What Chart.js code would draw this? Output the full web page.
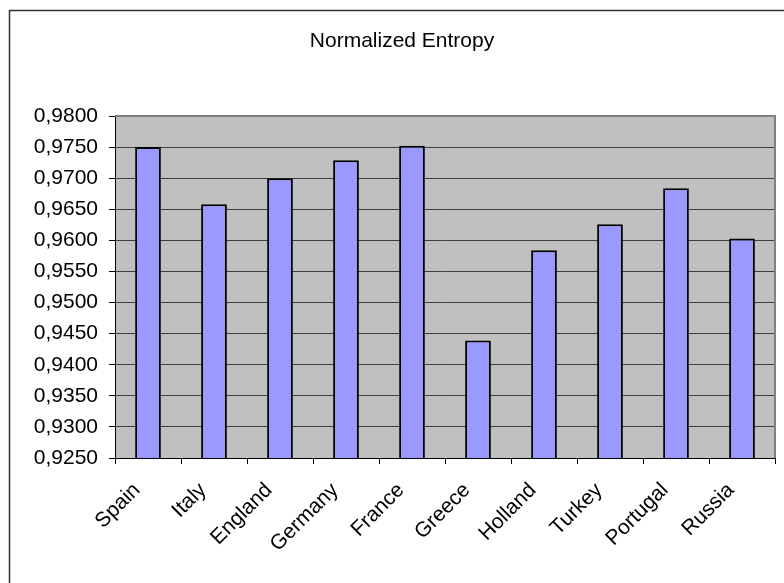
<!DOCTYPE html>
<html>
<head>
<meta charset="utf-8">
<script src="https://cdn.jsdelivr.net/npm/chart.js@4.4.1/dist/chart.umd.min.js"></script>
<style>
  html, body { margin: 0; padding: 0; background: #fff; }
  #wrap { width: 784px; height: 583px; position: relative; }
</style>
</head>
<body>
<div id="wrap"><canvas id="c" width="784" height="583"></canvas></div>
<script>
const categories = ["Spain", "Italy", "England", "Germany", "France", "Greece", "Holland", "Turkey", "Portugal", "Russia"];
const entropyValues = [0.9750, 0.9658, 0.9700, 0.9729, 0.9752, 0.9439, 0.9584, 0.9626, 0.9684, 0.9603];
const yTickValues = [0.9250, 0.9300, 0.9350, 0.9400, 0.9450, 0.9500, 0.9550, 0.9600, 0.9650, 0.9700, 0.9750, 0.9800];
const chartTitle = "Normalized Entropy";

const FONT = "'Liberation Sans', Arial, sans-serif";
const W = 784, H = 583;
const PLOT_LEFT = 115, PLOT_RIGHT = 775, PLOT_BOTTOM = 458, PLOT_TOP = 116, PAD_LEFT = 29;
const TITLE_SIZE = 21, TITLE_TOP = 29;

const decorPlugin = {
  id: 'decor',
  beforeDraw(chart) {
    const { ctx, chartArea: a } = chart;
    ctx.save();
    ctx.fillStyle = '#ffffff';
    ctx.fillRect(0, 0, chart.width, chart.height);
    ctx.fillStyle = '#C0C0C0';
    ctx.fillRect(a.left, a.top, a.right - a.left, a.bottom - a.top);
    ctx.restore();
  },
  afterDraw(chart) {
    const { ctx, chartArea: a } = chart;
    ctx.save();
    ctx.strokeStyle = '#808080';
    ctx.lineWidth = 2;
    ctx.beginPath();
    ctx.moveTo(a.left, a.top);
    ctx.lineTo(a.right, a.top);
    ctx.lineTo(a.right, a.bottom);
    ctx.stroke();
    ctx.strokeStyle = '#333333';
    ctx.lineWidth = 1.5;
    ctx.strokeRect(9.5, 10.5, W + 20, H + 20);
    ctx.restore();
  }
};

new Chart(document.getElementById('c'), {
  type: 'bar',
  data: {
    labels: categories,
    datasets: [{
      label: chartTitle,
      data: entropyValues,
      backgroundColor: '#9999FF',
      borderColor: '#000000',
      borderWidth: 2,
      borderSkipped: false,
      barPercentage: 0.39,
      categoryPercentage: 1.0
    }]
  },
  options: {
    responsive: false,
    animation: false,
    devicePixelRatio: 1,
    layout: { padding: { left: PAD_LEFT, right: W - PLOT_RIGHT, top: 0, bottom: 0 } },
    plugins: {
      legend: { display: false },
      tooltip: { enabled: false },
      title: {
        display: true,
        text: chartTitle,
        color: '#000',
        font: { family: FONT, size: TITLE_SIZE, weight: 'normal', lineHeight: 1.2 },
        padding: { top: TITLE_TOP, bottom: PLOT_TOP - TITLE_TOP - TITLE_SIZE * 1.2 }
      }
    },
    scales: {
      x: {
        grid: { display: true, drawOnChartArea: false, drawTicks: true, tickLength: 6, color: '#000', offset: true },
        border: { display: true, color: '#000', width: 1 },
        ticks: {
          autoSkip: false, maxRotation: 45, minRotation: 45,
          color: '#000', font: { family: FONT, size: 21 }, padding: 14, labelOffset: -11
        },
        afterFit(s) { s.height = H - PLOT_BOTTOM; }
      },
      y: {
        min: 0.925, max: 0.98,
        afterBuildTicks(s) { s.ticks = yTickValues.map(v => ({ value: v })); },
        ticks: {
          color: '#000', font: { family: FONT, size: 21 }, padding: 11,
          callback: v => Number(v).toFixed(4).replace('.', ',')
        },
        grid: {
          color: c => (c.tick && Math.abs(c.tick.value - 0.98) < 1e-9) ? 'rgba(0,0,0,0)' : '#404040',
          tickColor: '#000', tickLength: 6, lineWidth: 1
        },
        border: { display: true, color: '#000', width: 1 },
        afterFit(s) { s.width = PLOT_LEFT - PAD_LEFT; }
      }
    }
  },
  plugins: [decorPlugin]
});
</script>
</body>
</html>
